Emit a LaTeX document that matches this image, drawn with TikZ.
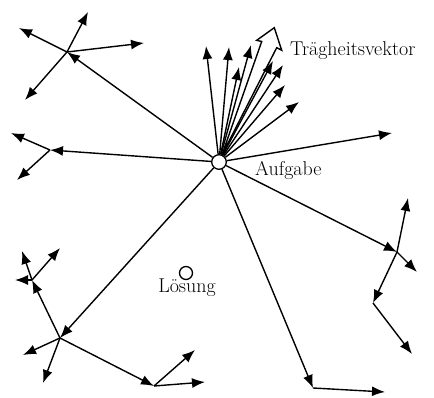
\documentclass[tikz,border=0pt]{standalone}
\usetikzlibrary{arrows.meta}
\begin{document}
\begin{tikzpicture}[x=1pt,y=-1pt,
  vec/.style={line width=1.4pt,-{Latex[length=13pt,width=10pt]}},
  ln/.style={line width=1.4pt},
  dot/.style={circle,draw,line width=1.3pt,fill=white,inner sep=0pt,minimum size=#1},
  lbl/.style={font=\fontsize{20}{24}\selectfont,inner sep=0pt}]
\useasboundingbox (0,0) rectangle (434,397);
% junction points
\coordinate (ul) at (67,52);
\coordinate (l) at (50,150);
\coordinate (ll) at (60,338);
\coordinate (llu) at (32,280);
\coordinate (llr) at (154,386);
\coordinate (b) at (313,388);
\coordinate (r) at (397,252);
\coordinate (r2) at (373,303);
% free ends
\coordinate (ul1) at (88,12);
\coordinate (ul2) at (19,28);
\coordinate (ul3) at (144,43);
\coordinate (ul4) at (25,100);
\coordinate (l1) at (11,133);
\coordinate (l2) at (17,180);
\coordinate (ll1) at (23,355);
\coordinate (ll2) at (43,383);
\coordinate (llu1) at (22,251);
\coordinate (llu2) at (60,248);
\coordinate (llu3) at (15,280);
\coordinate (llr1) at (195,350);
\coordinate (llr2) at (205,382);
\coordinate (b1) at (385,392);
\coordinate (r1) at (408,198);
\coordinate (r3) at (417,272);
\coordinate (r21) at (412,354);
% fan tips
\coordinate (f1) at (206,46);
\coordinate (f2) at (229,47);
\coordinate (f3) at (251,45);
\coordinate (f4) at (239,67);
\coordinate (f5) at (273,61);
\coordinate (f6) at (283,65);
\coordinate (f7) at (285,85);
\coordinate (f8) at (299,102);
\coordinate (f9) at (392,133);
% circles
\node[dot=14.6pt] (aufg) at (219,162) {};
\node[dot=13pt] (loes) at (186,273) {};
% labels
\node[lbl,anchor=base west] (tv) at (290,55) {Trägheitsvektor};
\node[lbl,anchor=base west] (al) at (255,175) {Aufgabe};
\node[lbl,anchor=base] (ll0) at (187,292) {Lösung};
% main arrows
\foreach \t in {ul,l,ll,b,r,f1,f2,f3,f4,f5,f6,f7,f8,f9}
  \draw[vec] (aufg) -- (\t);
% hollow inertia vector
\draw[ln,line join=miter] (221.8,155.3) -- (261.7,41.5) -- (256.7,40.3) -- (274.3,27.7) -- (281.7,50.3) -- (276.7,47.7) -- (221.8,155.3);
% secondary arrows
\foreach \t in {ul1,ul2,ul3,ul4} \draw[vec] (ul) -- (\t);
\foreach \t in {l1,l2} \draw[vec] (l) -- (\t);
\foreach \t in {ll1,ll2,llu,llr} \draw[vec] (ll) -- (\t);
\foreach \t in {llu1,llu2,llu3} \draw[vec] (llu) -- (\t);
\foreach \t in {llr1,llr2} \draw[vec] (llr) -- (\t);
\draw[vec] (b) -- (b1);
\foreach \t in {r1,r3,r2} \draw[vec] (r) -- (\t);
\draw[vec] (r2) -- (r21);
\end{tikzpicture}
\end{document}
